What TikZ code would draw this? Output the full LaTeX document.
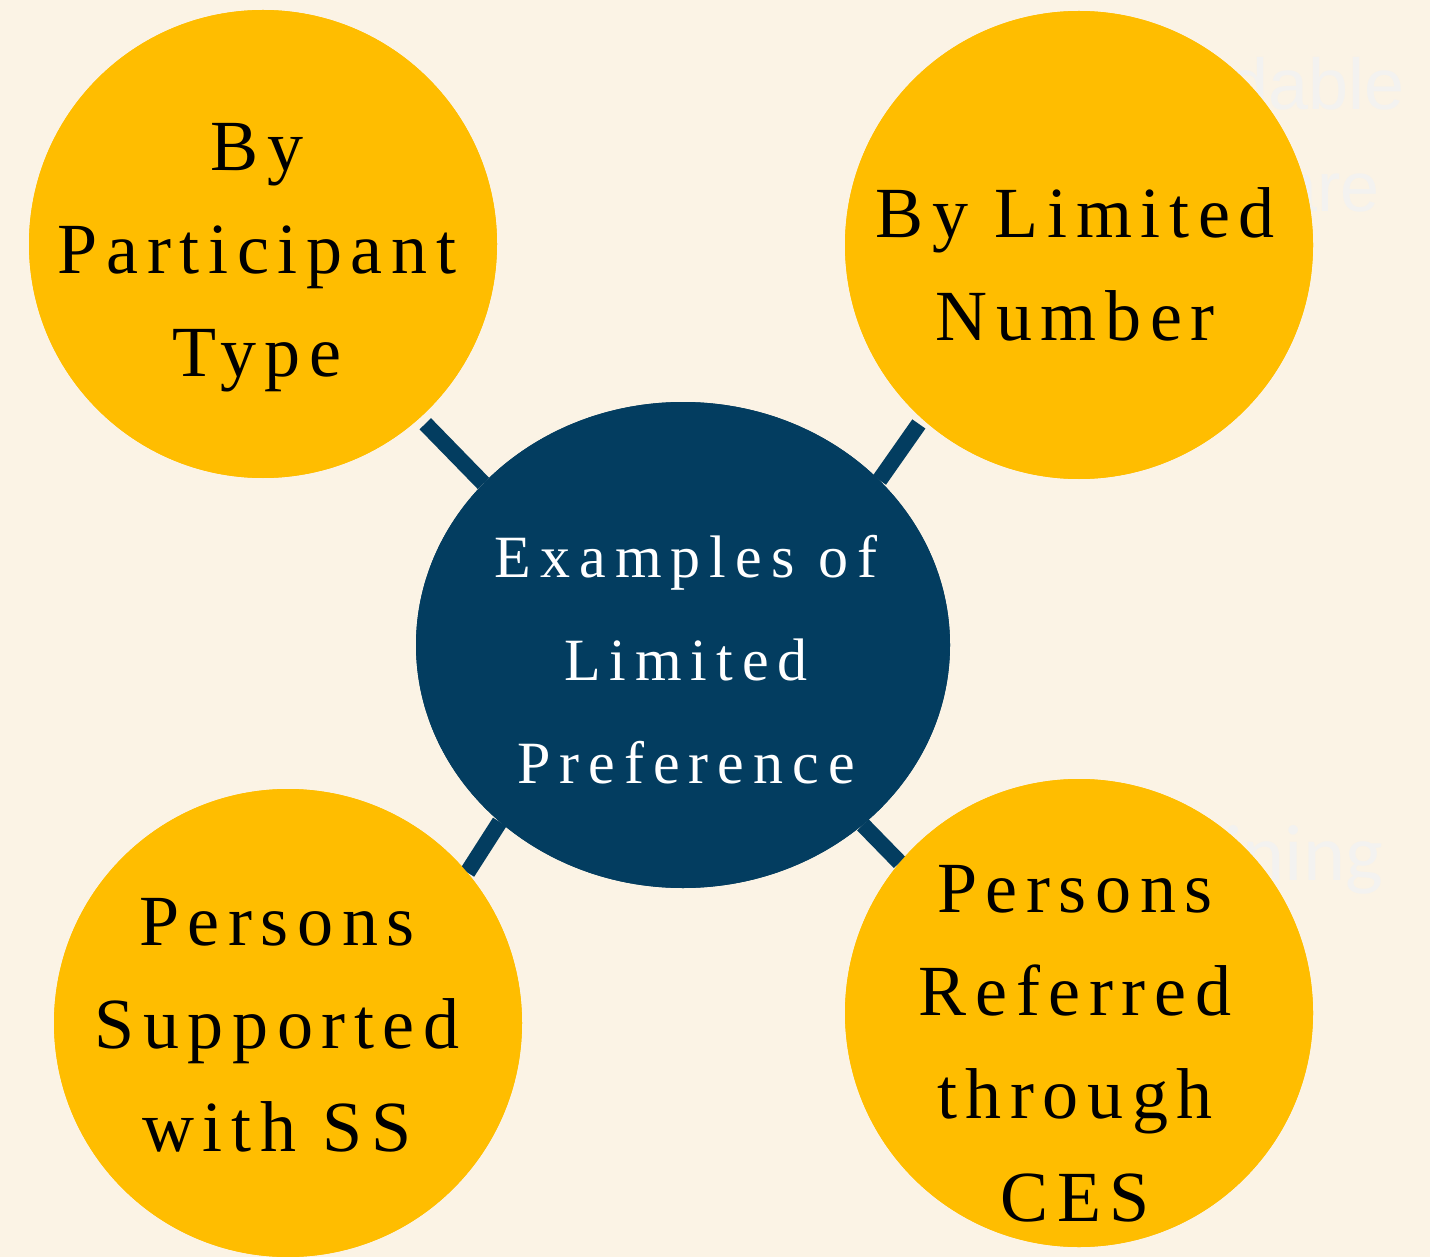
\documentclass[tikz,border=0pt]{standalone}
\usepackage{fontspec}
\usetikzlibrary{shapes.geometric}
\setmainfont{Liberation Serif}
\newfontfamily\bubblefont[LetterSpace=12]{Liberation Serif}
\newfontfamily\hubfont[LetterSpace=15]{Liberation Serif}
\newfontfamily\ghostfont{Liberation Sans}
\newfontfamily\ghostfontb{Carlito}
\definecolor{bgcream}{HTML}{FBF3E5}
\definecolor{goldfill}{HTML}{FFBD00}
\definecolor{navyfill}{HTML}{033D60}
\definecolor{ghost}{HTML}{F3F2F0}
\begin{document}
\begin{tikzpicture}[x=1pt,y=-1pt,
  bubble/.style={circle, fill=goldfill, minimum size=468pt, inner sep=0pt},
  hub/.style={ellipse, fill=navyfill, minimum width=534pt, minimum height=486pt, inner sep=0pt},
  bubbletext/.style={anchor=north, inner sep=0pt, align=center, text=black,
    font=\bubblefont\fontsize{72}{103}\selectfont},
  hubtext/.style={anchor=north, inner sep=0pt, align=center, text=white,
    font=\hubfont\fontsize{60}{103}\selectfont},
  link/.style={draw=navyfill, line width=16pt},
  ghosttext/.style={anchor=base east, inner sep=0pt, text=ghost}]
\fill[bgcream] (0,0) rectangle (1430,1257);
\useasboundingbox (0,0) rectangle (1430,1257);
% faint background texts
\node[ghosttext, font=\ghostfont\fontsize{72}{80}\selectfont] (g1) at (1405,110) {dable};
\node[ghosttext, font=\ghostfont\fontsize{70}{80}\selectfont] (g2) at (1380,212) {are};
\node[ghosttext, font=\ghostfontb\fontsize{80}{90}\selectfont] (g3) at (1383,880) {ining};
% shapes (named)
\node[hub] (c) at (683,645) {};
\node[bubble] (tl) at (263,244) {};
\node[bubble] (tr) at (1079,245) {};
\node[bubble] (bl) at (288,1023) {};
\node[bubble] (br) at (1079,1013) {};
% connectors
\draw[link, shorten >=8pt] (c.141.7) -- (tl.312.8);
\draw[link, shorten >=6pt] (c.40.6) -- (tr.228.4);
\draw[link] (c.224.5) -- (bl.40);
\draw[link] (c.315.6) -- (br.140.3);
% redraw shapes on top
\fill[navyfill] (c.center) ellipse [x radius=267, y radius=243];
\fill[goldfill] (tl.center) circle [radius=234];
\fill[goldfill] (tr.center) circle [radius=234];
\fill[goldfill] (bl.center) circle [radius=234];
\fill[goldfill] (br.center) circle [radius=234];
% texts
\node[hubtext] (ct) at (686,505) {\strut Examples of\\Limited\\Preference\strut};
\node[bubbletext] (tlt) at (257,98) {\strut By\\Participant\\Type\strut};
\node[bubbletext] (trt) at (1075,165) {\strut By Limited\\Number\strut};
\node[bubbletext] (blt) at (277,873) {\strut Persons\\Supported\\with SS\strut};
\node[bubbletext] (brt) at (1075,840) {\strut Persons\\Referred\\through\\CES\strut};
\end{tikzpicture}
\end{document}
